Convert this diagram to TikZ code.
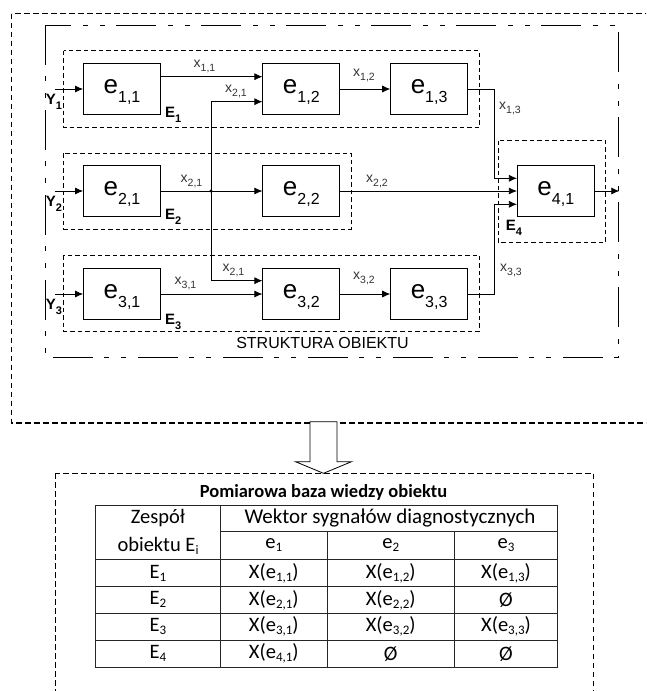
\documentclass[tikz,border=0pt]{standalone}
\usepackage{fontspec}
\setmainfont{Liberation Sans}
\newfontfamily\tabfont{Carlito}
\usetikzlibrary{positioning,arrows.meta}

% element, signal and group labels
\newcommand{\elem}[1]{e\raisebox{-9pt}{\fontsize{16}{16}\selectfont #1}}
\newcommand{\xsig}[1]{x\raisebox{-4pt}{\fontsize{10.5}{10.5}\selectfont #1}}
\newcommand{\inp}[1]{Y\raisebox{-4.5pt}{\fontsize{11}{11}\selectfont\bfseries #1}}
\newcommand{\grp}[1]{E\raisebox{-4.5pt}{\fontsize{11}{11}\selectfont\bfseries #1}}
% table entries
\newcommand{\tsub}[2]{#1\raisebox{-3pt}{\fontsize{13}{13}\selectfont #2}}
\newcommand{\xe}[1]{X(\tsub{e}{#1})}
\newcommand{\emp}{Ø}

\tikzset{
  block/.style={draw, line width=0.8pt, minimum width=77pt, minimum height=51.5pt,
    inner sep=0pt, text height=18pt, text depth=10pt, font=\fontsize{26}{26}\selectfont},
  sig/.style={-{Latex[length=8pt,width=7pt]}, line width=0.7pt},
  grpbox/.style={line width=0.7pt, dash pattern=on 4.5pt off 3pt},
  structframe/.style={line width=0.8pt, dash pattern=on 40pt off 11pt on 5pt off 12pt on 5pt off 12pt},
  outerbox/.style={line width=1.1pt, dash pattern=on 5.5pt off 3.5pt},
  xlab/.style={font=\fontsize{14}{14}\selectfont, text=black!80, inner sep=0pt},
  ylab/.style={font=\fontsize{15}{15}\selectfont\bfseries, inner sep=0pt, anchor=north west},
  elab/.style={font=\fontsize{15}{15}\selectfont\bfseries, inner sep=0pt, anchor=north west},
  tabcell/.style={font=\tabfont\fontsize{20.5}{20.5}\selectfont, inner sep=0pt},
  tabline/.style={line width=0.8pt, black!85},
}

\begin{document}
\begin{tikzpicture}[x=1pt,y=-1pt]
\useasboundingbox (0,0) rectangle (646,691);
\clip (0,0) rectangle (646,691);

% frames
\draw[outerbox] (11.5,13.5) rectangle (700,423);
\draw[structframe] (45.3,25) rectangle (618.5,357);
\node[font=\fontsize{16}{16}\selectfont] (str) at (322.5,343) {STRUKTURA OBIEKTU};

% elements
\node[block] (e11) at (122,89) {\elem{1,1}};
\node[block, right=101.5pt of e11] (e12) {\elem{1,2}};
\node[block, right=50pt of e12] (e13) {\elem{1,3}};
\node[block] (e21) at (122,191) {\elem{2,1}};
\node[block, right=101.5pt of e21] (e22) {\elem{2,2}};
\node[block] (e31) at (122,294) {\elem{3,1}};
\node[block, right=101.5pt of e31] (e32) {\elem{3,2}};
\node[block, right=50pt of e32] (e33) {\elem{3,3}};
\node[block] (e41) at (555.8,191) {\elem{4,1}};

% groups
\draw[grpbox] (63.8,50.7) rectangle (479.4,127.3);
\draw[grpbox] (63.8,153.3) rectangle (351,229);
\draw[grpbox] (63.8,255) rectangle (479.4,331);
\draw[grpbox] (498,140.7) rectangle (605.8,242.3);
\node[elab] (E1) at ([shift={(4pt,8pt)}]e11.south east) {\grp{1}};
\node[elab] (E2) at ([shift={(4pt,8pt)}]e21.south east) {\grp{2}};
\node[elab] (E3) at ([shift={(4pt,6pt)}]e31.south east) {\grp{3}};
\node[elab] (E4) at ([shift={(-11.3pt,-3.3pt)}]e41.south west) {\grp{4}};

% inputs
\foreach \k in {1,2,3}{
  \coordinate (in\k) at ([xshift=-28pt]e\k1.west);
  \node[ylab] (Y\k) at ([shift={(-9.5pt,-5pt)}]in\k) {\inp{\k}};
  \draw[sig] (in\k) -- (e\k1);
}

% signals
\coordinate (j) at (211,191);
\draw[sig] ([yshift=12.3pt]e11.east) -- ([yshift=12.3pt]e12.west);
\draw[sig] (j) |- ([yshift=-12.7pt]e12.west);
\draw[sig] (e12) -- (e13);
\draw[sig] (e13.east) -- ++(26.7pt,0) |- ([yshift=12.7pt]e41.west);
\draw[sig] (e21) -- (e22);
\fill (j) circle (1.6pt);
\draw[sig] (e22) -- (e41);
\draw[sig] (j) |- ([yshift=13.3pt]e32.west);
\draw[sig] (e31) -- (e32);
\draw[sig] (e32) -- (e33);
\draw[sig] (e33.east) -- ++(26.7pt,0) |- ([yshift=-13.3pt]e41.west);
\coordinate (out) at (619.3,191);
\draw[sig] (e41) -- (out);

\node[xlab] (x11) at (204.5,66) {\xsig{1,1}};
\node[xlab] (x21a) at (236,91.5) {\xsig{2,1}};
\node[xlab] (x12) at (364,75) {\xsig{1,2}};
\node[xlab] (x13) at (510,108) {\xsig{1,3}};
\node[xlab] (x21b) at (191.5,181.5) {\xsig{2,1}};
\node[xlab] (x22) at (377,181.5) {\xsig{2,2}};
\node[xlab] (x21c) at (233.5,270) {\xsig{2,1}};
\node[xlab] (x31) at (185.5,283.5) {\xsig{3,1}};
\node[xlab] (x32) at (364,278.5) {\xsig{3,2}};
\node[xlab] (x33) at (511,270) {\xsig{3,3}};

% arrow down to the knowledge base
\draw[line width=0.8pt, fill=white] (310,421.7) -- (310,461.7) -- (295.5,461.7)
  -- (323.5,473.3) -- (351.5,461.7) -- (337,461.7) -- (337,421.7) -- cycle;
\draw[outerbox] (55.3,473.3) rectangle (593.8,720);

% knowledge base table
\node[tabcell, font=\tabfont\bfseries\fontsize{18.5}{18.5}\selectfont] (title) at (323.5,492) {Pomiarowa baza wiedzy obiektu};
\draw[tabline] (95.5,505) rectangle (557.4,667.3);
\draw[tabline] (220.6,531.7) -- (557.4,531.7);
\draw[tabline, line width=1.5pt] (95.5,559.3) -- (557.4,559.3);
\foreach \y in {586.7,613.3,640}
  \draw[tabline] (95.5,\y) -- (557.4,\y);
\draw[tabline, line width=1.3pt] (220.6,505) -- (220.6,667.3);
\draw[tabline] (327,531.7) -- (327,667.3);
\draw[tabline] (454.5,531.7) -- (454.5,667.3);

\node[tabcell] (hz1) at (158,518) {Zespół};
\node[tabcell] (hz2) at (158,545.5) {obiektu \tsub{E}{i}};
\node[tabcell, font=\tabfont\fontsize{21}{21}\selectfont] (hw) at (390,518) {Wektor sygnałów diagnostycznych};
\node[tabcell] (he1) at (273.8,545.5) {\tsub{e}{1}};
\node[tabcell] (he2) at (390.7,545.5) {\tsub{e}{2}};
\node[tabcell] (he3) at (506,545.5) {\tsub{e}{3}};
\foreach \k/\ea/\eb/\ec in {1/\xe{1,1}/\xe{1,2}/\xe{1,3}, 2/\xe{2,1}/\xe{2,2}/\emp,
    3/\xe{3,1}/\xe{3,2}/\xe{3,3}, 4/\xe{4,1}/\emp/\emp}{
  \node[tabcell] (g\k) at (158,{546.1+26.9*\k}) {\tsub{E}{\k}};
  \node[tabcell] (c\k1) at (273.8,{546.1+26.9*\k}) {\ea};
  \node[tabcell] (c\k2) at (390.7,{546.1+26.9*\k}) {\eb};
  \node[tabcell] (c\k3) at (506,{546.1+26.9*\k}) {\ec};
}
\end{tikzpicture}
\end{document}
